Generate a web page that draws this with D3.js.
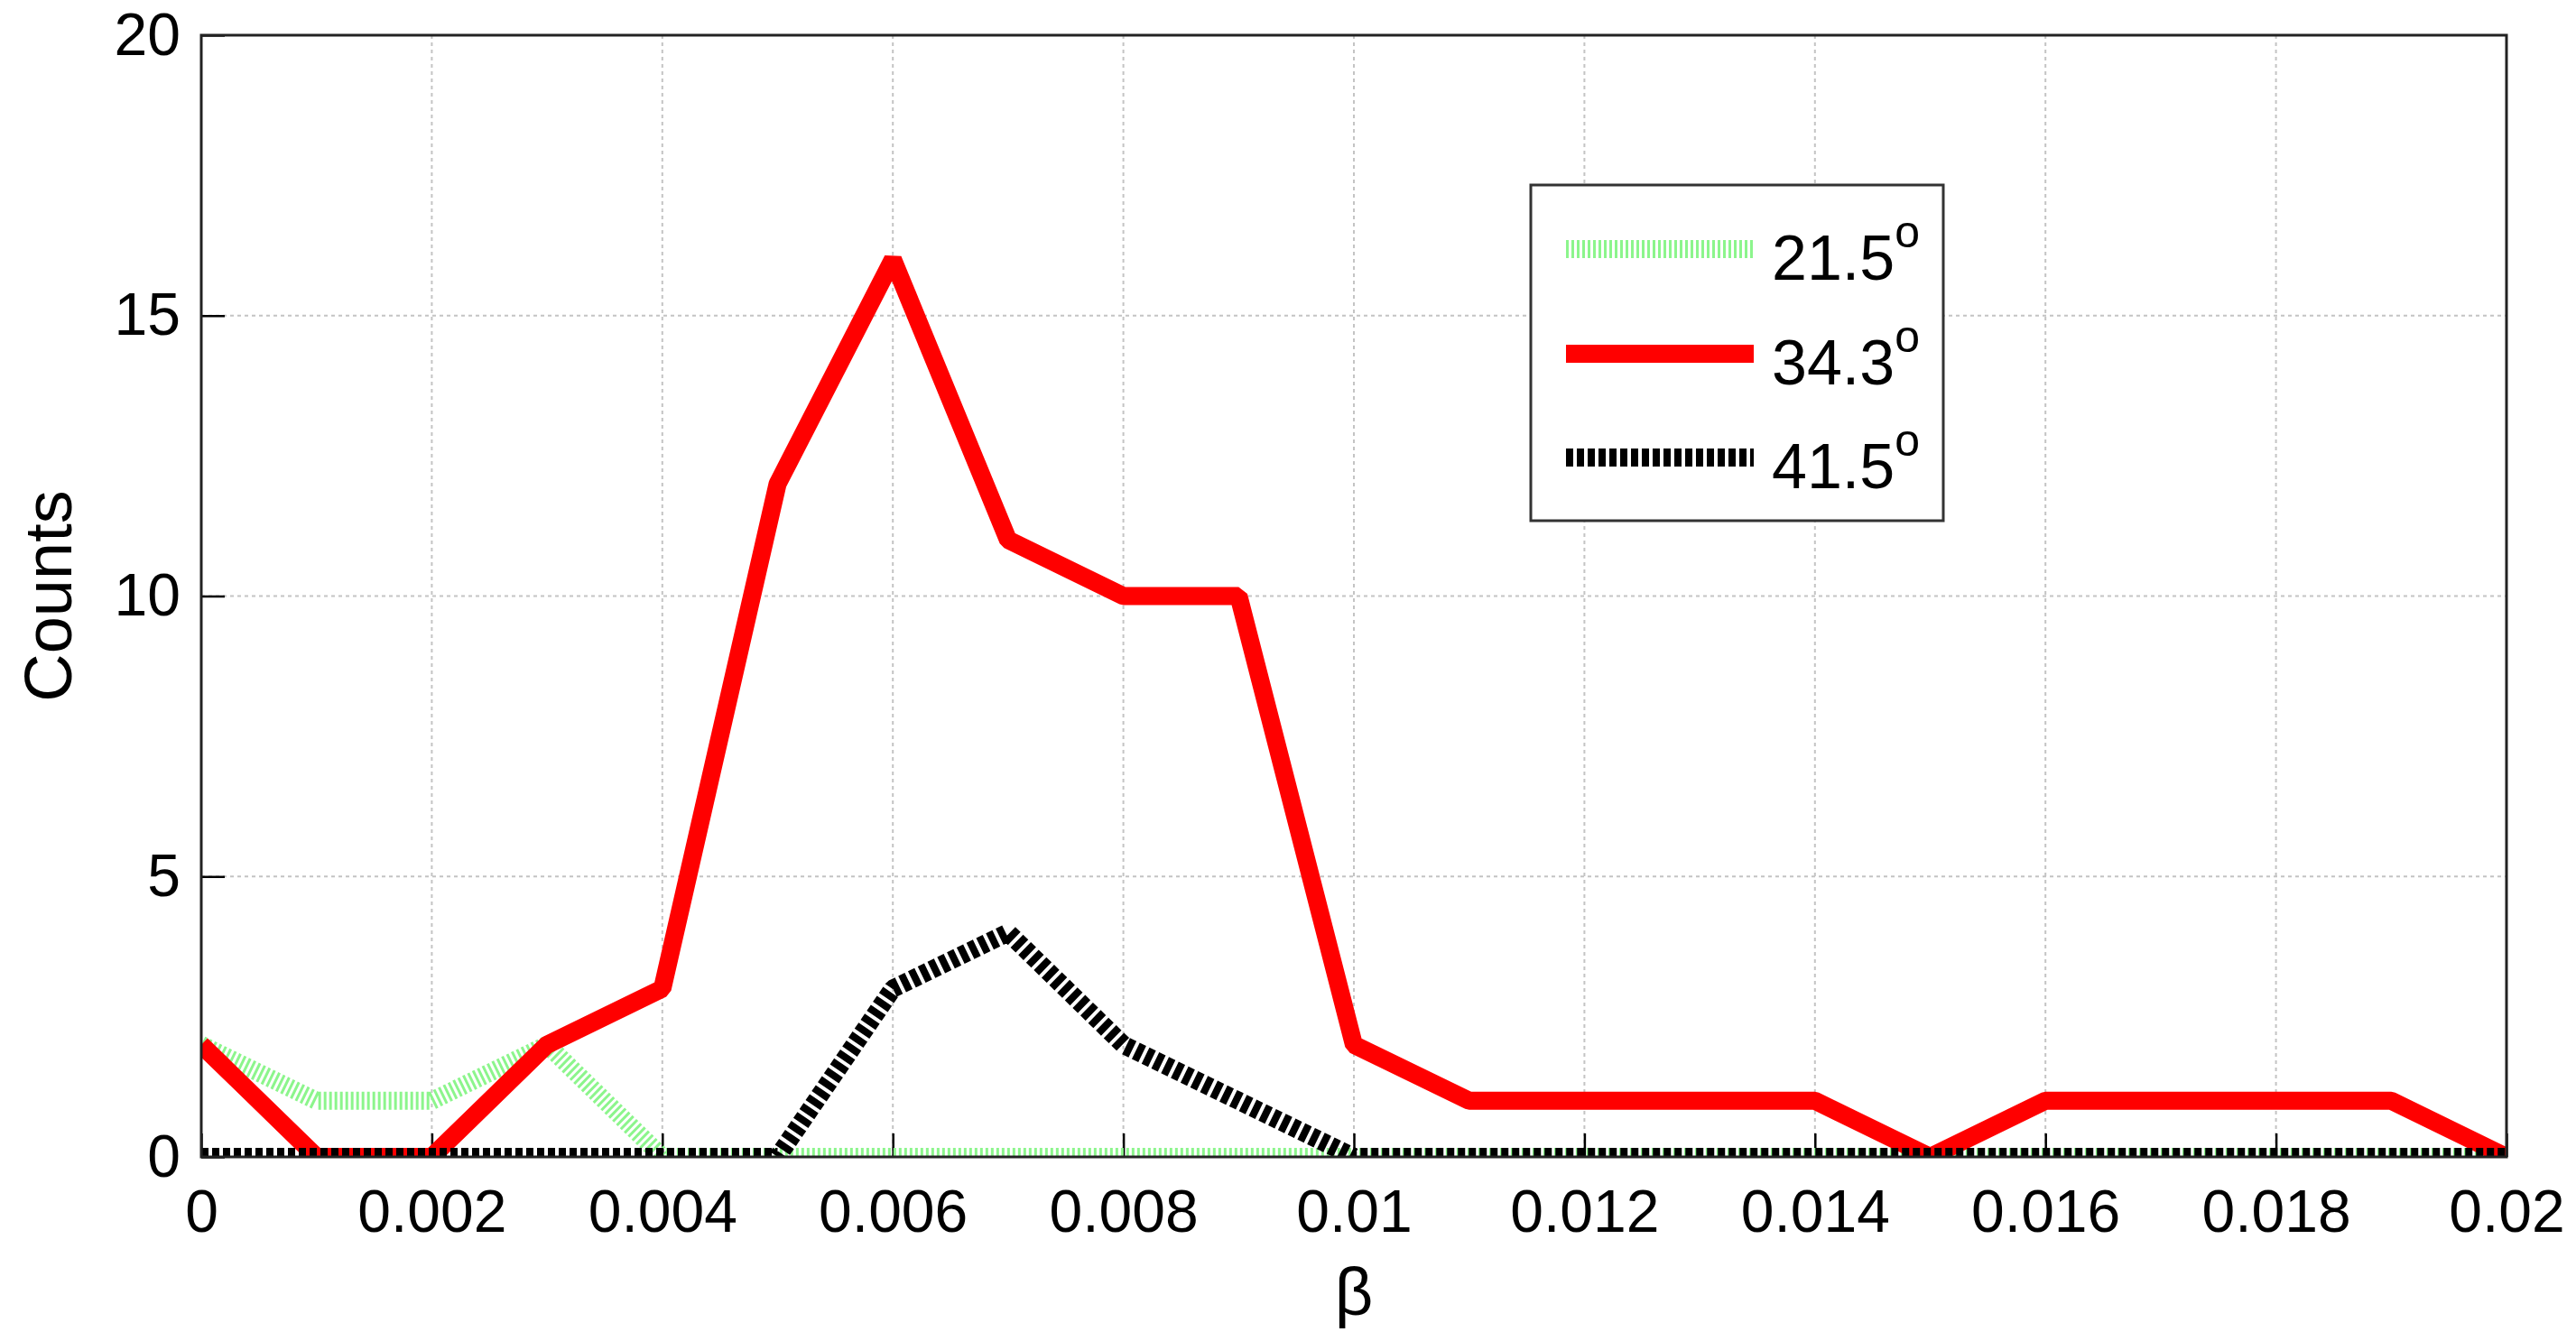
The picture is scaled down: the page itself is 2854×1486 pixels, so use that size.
<!DOCTYPE html>
<html><head><meta charset="utf-8">
<script src="https://cdn.jsdelivr.net/npm/d3@7"></script>
<style>
html,body{margin:0;padding:0;background:#fff;}
svg{display:block;}
text{font-family:"Liberation Sans",Arial,sans-serif;fill:#000;}
</style></head>
<body>
<svg id="chart" width="2854" height="1486"></svg>
<script>
// ---- data ----
const beta = [0,0.001,0.002,0.003,0.004,0.005,0.006,0.007,0.008,0.009,0.010,
              0.011,0.012,0.013,0.014,0.015,0.016,0.017,0.018,0.019,0.020];
const counts215 = [2,1,1,2,0,0,0,0,0,0,0,0,0,0,0,0,0,0,0,0,0];
const counts343 = [2,0,0,2,3,12,16,11,10,10,2,1,1,1,1,0,1,1,1,1,0];
const counts415 = [0,0,0,0,0,0,3,4,2,1,0,0,0,0,0,0,0,0,0,0,0];
const seriesNames = ["21.5", "34.3", "41.5"];
const xTickValues = [0,0.002,0.004,0.006,0.008,0.01,0.012,0.014,0.016,0.018,0.02];
const xTickLabels = ["0","0.002","0.004","0.006","0.008","0.01","0.012","0.014","0.016","0.018","0.02"];
const yTickValues = [0,5,10,15,20];
const yTickLabels = ["0","5","10","15","20"];
const xLabel = "\u03B2";
const yLabel = "Counts";

// ---- layout ----
const L = 223, R = 2777, T = 39, B = 1282;
const svg = d3.select("#chart");
const x = d3.scaleLinear().domain([0,0.02]).range([L,R]);
const y = d3.scaleLinear().domain([0,20]).range([B,T]);

// grid
const grid = svg.append("g");
grid.selectAll("line.gx").data(xTickValues.slice(1,-1)).join("line")
  .attr("x1",d=>x(d)).attr("x2",d=>x(d)).attr("y1",T).attr("y2",B)
  .attr("stroke","#c4c4c4").attr("stroke-width",2).attr("stroke-dasharray","4,4");
grid.selectAll("line.gy").data(yTickValues.slice(1,-1)).join("line")
  .attr("x1",L).attr("x2",R).attr("y1",d=>y(d)).attr("y2",d=>y(d))
  .attr("stroke","#c4c4c4").attr("stroke-width",2).attr("stroke-dasharray","4,4");

// axes with ticks inside
const xAxis = d3.axisBottom(x).tickValues(xTickValues)
  .tickFormat((d,i)=>xTickLabels[i]).tickSize(-26).tickPadding(36);
const gx = svg.append("g").attr("transform",`translate(0,${B})`).call(xAxis);
const yAxis = d3.axisLeft(y).tickValues(yTickValues)
  .tickFormat((d,i)=>yTickLabels[i]).tickSize(-26).tickPadding(23);
const gy = svg.append("g").attr("transform",`translate(${L},0)`).call(yAxis);
[gx,gy].forEach(g=>{
  g.select(".domain").remove();
  g.selectAll(".tick line").attr("stroke","#000").attr("stroke-width",2.5);
  g.selectAll(".tick text").style("font-size","66px").attr("fill","#000")
   .style("font-family","'Liberation Sans',Arial,sans-serif");
});

// clip
svg.append("clipPath").attr("id","plotclip").append("rect")
  .attr("x",L).attr("y",T).attr("width",R-L).attr("height",B-T);

const line = d3.line().x(d=>x(d[0])).y(d=>y(d[1]));
const styles = [
  {data:counts215, color:"#8cf58c", dash:"3,3", width:20},
  {data:counts343, color:"#ff0000", dash:null, width:20},
  {data:counts415, color:"#000000", dash:"8,4", width:20}
];
const lines = svg.append("g").attr("clip-path","url(#plotclip)");
styles.forEach(s=>{
  lines.append("path").datum(beta.map((b,i)=>[b,s.data[i]]))
    .attr("d",line).attr("fill","none").attr("stroke",s.color)
    .attr("stroke-width",s.width).attr("stroke-linejoin","bevel")
    .attr("stroke-dasharray",s.dash);
});

// box
svg.append("rect").attr("x",L).attr("y",T).attr("width",R-L).attr("height",B-T)
  .attr("fill","none").attr("stroke","#222").attr("stroke-width",3);

// axis labels
svg.append("text").attr("x",(L+R)/2).attr("y",1457).attr("text-anchor","middle")
  .style("font-size","74px").text(xLabel);
svg.append("text").attr("transform",`translate(79,${(T+B)/2}) rotate(-90)`)
  .attr("text-anchor","middle").style("font-size","74px").text(yLabel);

// legend
const lg = svg.append("g");
lg.append("rect").attr("x",1696).attr("y",205).attr("width",457).attr("height",372)
  .attr("fill","#fff").attr("stroke","#333").attr("stroke-width",3);
const rowsY = [276,392,507];
styles.forEach((s,i)=>{
  lg.append("line").attr("x1",1735).attr("x2",1943).attr("y1",rowsY[i]).attr("y2",rowsY[i])
    .attr("stroke",s.color).attr("stroke-width",s.width).attr("stroke-dasharray",s.dash);
  const t = lg.append("text").attr("x",1963).attr("y",rowsY[i]+34).style("font-size","70px");
  t.append("tspan").text(seriesNames[i]);
  t.append("tspan").attr("dy",-36).style("font-size","50px").text("o");
});
</script>
</body></html>
